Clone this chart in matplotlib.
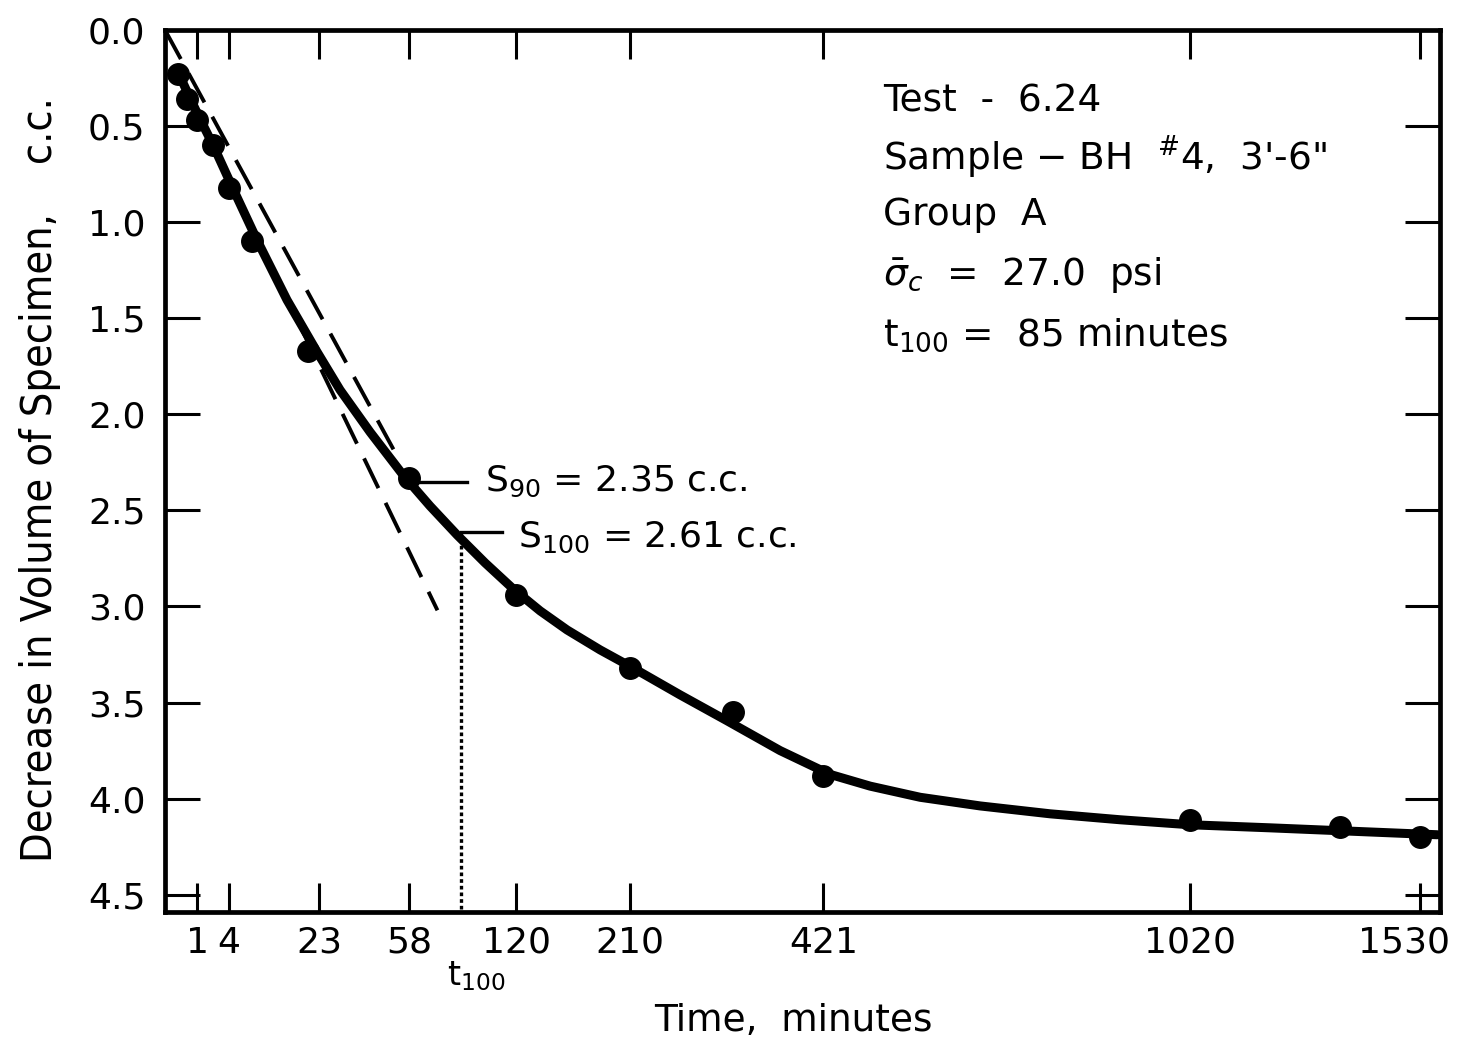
import numpy as np
import matplotlib
matplotlib.use("Agg")
import matplotlib.pyplot as plt
from matplotlib import transforms

# ---- data (time in minutes, volume decrease in c.c.) ----
obs_time = [0.16, 0.47, 1, 2.24, 4, 7.4, 20, 58, 120, 210, 313, 421, 1020, 1340, 1530]
obs_vol = [0.23, 0.36, 0.47, 0.60, 0.82, 1.10, 1.67, 2.33, 2.94, 3.32, 3.55, 3.88, 4.11, 4.15, 4.20]

curve_time = [0.164, 0.607, 1.19, 2.24, 4.76, 8.22, 14.46, 22.45, 29.76, 40.84, 55.0,
              68.2, 82.9, 99.5, 117.7, 136.7, 157.0, 183.9, 212.8, 257.7, 306.9,
              367.5, 429.7, 483.0, 553.9, 645.4, 761.0, 886.2, 1020.9, 1186.5,
              1350.7, 1572.2]
curve_vol = [0.219, 0.354, 0.463, 0.598, 0.848, 1.093, 1.405, 1.675, 1.873, 2.092, 2.315,
             2.477, 2.628, 2.773, 2.908, 3.023, 3.122, 3.226, 3.320, 3.460, 3.595,
             3.750, 3.874, 3.935, 3.993, 4.038, 4.079, 4.110, 4.136, 4.152,
             4.168, 4.188]

tangent1_time = [0, 53.4]
tangent1_vol = [0.0, 2.24]
tangent2_time = [17.6, 72.1]
tangent2_vol = [1.535, 3.02]

x_ticks = [1, 4, 23, 58, 120, 210, 421, 1020, 1530]
y_ticks = [0.0, 0.5, 1.0, 1.5, 2.0, 2.5, 3.0, 3.5, 4.0, 4.5]

s90 = 2.35
s100 = 2.61
t100 = 85

plt.rcParams['font.family'] = ['DejaVu Sans']
plt.rcParams['mathtext.fontset'] = 'dejavusans'

fig = plt.figure(figsize=(14.59, 10.41), dpi=100)
ax = fig.add_axes([165/1459, 1 - 912/1041, (1440-165)/1459, (912-30)/1041])


def fwd(x):
    x = np.asarray(x, dtype=float)
    return np.sign(x) * np.sqrt(np.abs(x))


def inv(y):
    y = np.asarray(y, dtype=float)
    return np.sign(y) * y**2


ax.set_xscale('function', functions=(fwd, inv))
ax.set_xlim(0, 1579)
ax.set_ylim(4.59, 0)

# main curve
ax.plot(curve_time, curve_vol, color='black', lw=6.5, solid_capstyle='round',
        solid_joinstyle='round', zorder=3)
# observations
ax.plot(obs_time, obs_vol, 'o', color='black', ms=15.5, zorder=4, clip_on=False)
# tangent dashed lines
ax.plot(tangent1_time, tangent1_vol, color='black', lw=2.8, dashes=(8.5, 4.2), zorder=2)
ax.plot(tangent2_time, tangent2_vol, color='black', lw=2.8, dashes=(8.5, 4.2), zorder=2)

# t100 dotted vertical
ax.plot([t100, t100], [s100, 4.59], color='black', lw=2.4, linestyle=(0, (1.1, 0.9)), zorder=2)

# S90 / S100 leader lines and text
ax.plot([58, 88.6], [s90, s90], color='black', lw=2.4, zorder=2)
ax.plot([t100, 110.4], [s100, s100], color='black', lw=2.4, zorder=2)
ax.text(99.5, s90, r"S$_{90}$ = 2.35 c.c.", fontsize=26, va='center', ha='left')
ax.text(121.1, s100 + 0.03, r"S$_{100}$ = 2.61 c.c.", fontsize=26, va='center', ha='left')

# t100 label under axis
ax.annotate(r"t$_{100}$", xy=(t100, 4.59), xycoords='data', xytext=(-14, -47),
            textcoords='offset pixels', fontsize=24, ha='left', va='top',
            annotation_clip=False)

# info block
info_lines = [
    "Test  -  6.24",
    "Sample $-$ BH  $^{\\#}$4,  3'-6\"",
    "Group  A",
    r"$\bar{\sigma}_c$  =  27.0  psi",
    r"t$_{100}$ =  85 minutes",
]
info_y = [102, 157, 215, 275, 335]
for line, py in zip(info_lines, info_y):
    fig.text(883/1459, 1 - py/1041, line, fontsize=27, ha='left', va='center')

# ticks
ax.set_xticks(x_ticks)
ax.set_xticklabels([str(v) for v in x_ticks])
ax.set_yticks(y_ticks)
ax.set_yticklabels([f"{v:.1f}" for v in y_ticks])
ax.tick_params(axis='x', which='both', direction='in', length=21, width=2.2,
               top=True, bottom=True, labelsize=26, pad=10)
ax.tick_params(axis='y', which='both', direction='in', length=25, width=2.2,
               left=True, right=True, labelsize=26, pad=14)
ax.minorticks_off()

# nudge the last x tick label inward so it stays on the canvas
last = ax.get_xticklabels()[-1]
last.set_transform(last.get_transform() + transforms.ScaledTranslation(-16/100, 0, fig.dpi_scale_trans))

for sp in ax.spines.values():
    sp.set_linewidth(3.4)

fig.text(793/1459, 1 - 1021/1041, "Time,  minutes", fontsize=27, ha='center', va='center')
fig.text(40/1459, 1 - 480/1041, "Decrease in Volume of Specimen,    c.c.", fontsize=31,
         fontstretch='condensed', rotation=90, ha='center', va='center')

fig.savefig("out.png", dpi=100)
